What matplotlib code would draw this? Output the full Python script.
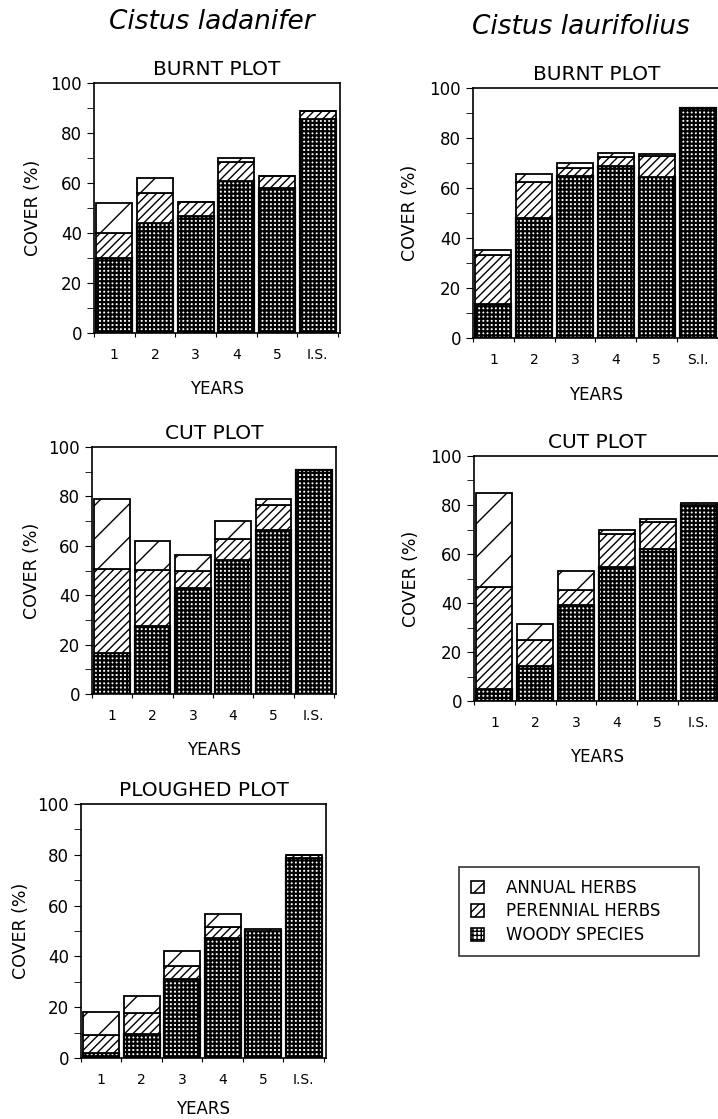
import numpy as np
import matplotlib.pyplot as plt
from matplotlib.patches import Patch

plt.rcParams['font.family'] = ['DejaVu Sans']
plt.rcParams['hatch.linewidth'] = 1.0

years = ['1', '2', '3', '4', '5', 'I.S.']
years_si = ['1', '2', '3', '4', '5', 'S.I.']

# cover (%): woody, perennial herbs, annual herbs
lad_burnt_woody = [30, 44, 47, 61, 58, 85.5]
lad_burnt_perennial = [10, 12, 5.5, 7.5, 5, 3.5]
lad_burnt_annual = [12, 6, 0, 1.5, 0, 0]

lau_burnt_woody = [13.6, 48, 65, 69, 64.4, 92]
lau_burnt_perennial = [19.7, 14.3, 3, 3.4, 8.6, 0]
lau_burnt_annual = [2, 3.3, 2, 1.6, 0.4, 0]

lad_cut_woody = [16.8, 27.5, 43, 54.4, 66.4, 90.8]
lad_cut_perennial = [34, 22.6, 6.8, 8.2, 10, 0]
lad_cut_annual = [28, 11.7, 6.5, 7.3, 2.6, 0]

lau_cut_woody = [4.8, 14.2, 39, 54.6, 62.2, 80]
lau_cut_perennial = [41.8, 10.9, 6.2, 13.4, 10.9, 0]
lau_cut_annual = [38.4, 6.2, 8, 1.8, 1.1, 1]

lad_plough_woody = [2, 9.6, 31.1, 47.4, 50, 78.6]
lad_plough_perennial = [7, 8.1, 5.2, 4.2, 0, 1.4]
lad_plough_annual = [9, 6.9, 5.7, 4.9, 0.7, 0]

W, H = 718, 1119
fig = plt.figure(figsize=(W / 100, H / 100), dpi=100)


def box(l, t, r, b):
    return [l / W, 1 - b / H, (r - l) / W, (b - t) / H]


def thick_hatch(patches, lw=1.6):
    for p in patches:
        if hasattr(p, 'set_hatch_linewidth'):
            p.set_hatch_linewidth(lw)


def panel(rect, title, woody, perennial, annual, labels, ylab_x=-0.21, xlab_y=-0.19):
    ax = fig.add_axes(rect)
    x = np.arange(len(woody))
    woody = np.array(woody, dtype=float)
    perennial = np.array(perennial, dtype=float)
    annual = np.array(annual, dtype=float)
    w = 0.88
    wb = ax.bar(x, woody, w, color='white', edgecolor='black', hatch='++++', lw=1.6)
    thick_hatch(wb)
    ax.bar(x, perennial, w, bottom=woody, color='white', edgecolor='black',
           hatch='////', lw=1.3)
    ax.bar(x, annual, w, bottom=woody + perennial, color='white', edgecolor='black',
           hatch='/', lw=1.3)
    ax.set_xlim(-0.47, 5.55)
    ax.set_ylim(0, 100)
    for s in ax.spines.values():
        s.set_linewidth(1.2)
    ax.set_xticks(np.arange(7) - 0.5)
    ax.set_xticklabels([])
    ax.set_xticks(x, minor=True)
    ax.set_xticklabels(labels, minor=True)
    ax.tick_params(axis='x', which='major', direction='out', length=3)
    ax.tick_params(axis='x', which='minor', length=0, pad=11, labelsize=10)
    ax.set_yticks(range(0, 101, 20))
    ax.set_yticks(range(10, 100, 20), minor=True)
    ax.tick_params(axis='y', which='both', direction='out', length=5, labelsize=12)
    ax.set_ylabel('COVER (%)', fontsize=12.5)
    ax.yaxis.set_label_coords(ylab_x, 0.5)
    ax.set_xlabel('YEARS', fontsize=12)
    ax.xaxis.set_label_coords(0.5, xlab_y)
    ax.set_title(title, fontsize=14.5, pad=6)
    return ax


panel(box(94, 83, 340, 333), 'BURNT PLOT',
      lad_burnt_woody, lad_burnt_perennial, lad_burnt_annual, years)
panel(box(473, 88, 720, 338), 'BURNT PLOT',
      lau_burnt_woody, lau_burnt_perennial, lau_burnt_annual, years_si, -0.22)
panel(box(92, 447, 336, 694), 'CUT PLOT',
      lad_cut_woody, lad_cut_perennial, lad_cut_annual, years)
panel(box(474, 456, 721, 701), 'CUT PLOT',
      lau_cut_woody, lau_cut_perennial, lau_cut_annual, years, -0.22)
panel(box(81, 804, 326, 1058), 'PLOUGHED PLOT',
      lad_plough_woody, lad_plough_perennial, lad_plough_annual, years,
      xlab_y=-0.165)

fig.text(212 / W, 1 - 22 / H, 'Cistus ladanifer', fontsize=19, style='italic',
         ha='center', va='center')
fig.text(581 / W, 1 - 27 / H, 'Cistus laurifolius', fontsize=19, style='italic',
         ha='center', va='center')

handles = [Patch(facecolor='white', edgecolor='black', hatch='/', lw=1.2),
           Patch(facecolor='white', edgecolor='black', hatch='////', lw=1.2),
           Patch(facecolor='white', edgecolor='black', hatch='++++', lw=1.2)]
thick_hatch(handles[2:])
leg = fig.legend(handles, ['ANNUAL HERBS', 'PERENNIAL HERBS', 'WOODY SPECIES'],
                 loc='upper left',
                 bbox_to_anchor=(459 / W, 1 - 957 / H, 240 / W, 90 / H),
                 mode='expand', fontsize=12, frameon=True, fancybox=False,
                 edgecolor='black', handlelength=0.8, handleheight=0.8,
                 handletextpad=1.3, labelspacing=0.35, borderpad=0.7,
                 borderaxespad=0)
leg.get_frame().set_linewidth(1.2)

fig.savefig('out.png', dpi=100)
